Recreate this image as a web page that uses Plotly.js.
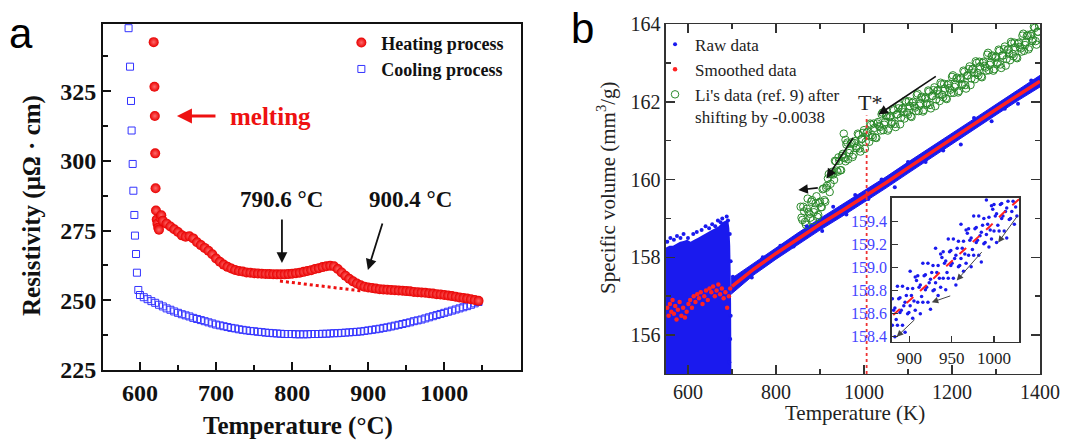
<!DOCTYPE html>
<html><head><meta charset="utf-8">
<script src="https://cdn.plot.ly/plotly-3.0.1.min.js"></script>
<style>html,body{margin:0;padding:0;background:#fff}#chart{width:1082px;height:443px}</style>
</head><body><div id="chart"></div>
<script>
// ---------- Panel a : resistivity ----------
const heatT = [618,619,619.5,620,620.5,621,622,623,624,625,627,628,
 630,635,640,645,650,655,660,665,670,675,680,685,690,695,700,705,710,715,720,725,
 730,735,740,745,750,755,760,765,770,775,780,785,790,795,800,805,810,815,820,825,830,835,840,845,850,855,860,865,870,875,880,885,890,895,900,905,910,915,920,925,930,935,940,945,950,955,960,965,970,975,980,985,990,995,1000,1005,1010,1015,1020,1025,1030,1035,1040,1045];
const heatR = [342.6,326.6,316.1,302.7,290.2,282.2,279,277.5,276,275.3,279.5,280.5,
 278.5,277.5,276.5,275.5,274.5,273.3,272.8,273.0,272.2,270.8,269.8,268.8,267.8,266.5,265.0,263.8,262.8,262.0,261.4,260.9,
 260.5,260.3,260.0,259.9,259.7,259.6,259.5,259.45,259.4,259.35,259.3,259.3,259.3,259.4,259.5,259.7,259.9,260.2,260.5,260.8,261.2,261.5,261.9,262.2,262.4,262.2,261.2,260.0,258.8,257.7,256.8,256.0,255.4,254.9,254.6,254.4,254.2,254.0,253.9,253.8,253.7,253.6,253.5,253.4,253.3,253.2,253.0,252.9,252.8,252.7,252.5,252.4,252.2,252.1,251.9,251.7,251.5,251.3,251.0,250.8,250.6,250.4,250.1,249.8];
const coolT = [585,586.9,588.2,589,590.4,591.3,592.6,593.4,594.8,596,597.8,
 600,605,610,615,620,625,630,635,640,645,650,655,660,665,670,675,680,685,690,695,700,705,710,715,720,725,730,735,740,745,750,755,760,765,770,775,780,785,790,795,800,805,810,815,820,825,830,835,840,845,850,855,860,865,870,875,880,885,890,895,900,905,910,915,920,925,930,935,940,945,950,955,960,965,970,975,980,985,990,995,1000,1005,1010,1015,1020,1025,1030,1035,1040,1045];
const coolR = [347.6,333.8,321.5,310.9,298.9,289.3,280.6,273.2,266.6,259.9,253.7,
 251.9,251.1,250.4,249.7,249.1,248.4,247.8,247.1,246.6,246.0,245.5,245.0,244.6,244.2,243.7,243.3,242.9,242.5,242.1,241.7,241.3,241.0,240.7,240.4,240.1,239.9,239.6,239.4,239.2,239.0,238.9,238.7,238.6,238.4,238.3,238.2,238.1,238.0,237.9,237.9,237.9,237.8,237.8,237.8,237.8,237.9,237.9,237.9,238.0,238.0,238.1,238.2,238.2,238.3,238.4,238.5,238.6,238.7,238.8,239.0,239.2,239.4,239.6,239.8,240.1,240.3,240.6,240.9,241.2,241.5,241.8,242.1,242.5,242.8,243.1,243.5,243.9,244.3,244.7,245.1,245.5,245.9,246.3,246.7,247.1,247.5,247.9,248.4,248.9,249.4];
const baselineT = [784, 893];
const baselineR = [256.9, 253.3];
const aTicks = [600,700,800,900,1000];
const aYTicks = [225,250,275,300,325];

// ---------- Panel b : specific volume ----------
const blockT = [550,558,566,574,582,590,598,606,614,622,630,638,646,654,662,670,678,686,691,694,696,697,698,698.5];
const blockTop = [158.25,158.3,158.3,158.35,158.4,158.42,158.45,158.4,158.45,158.5,158.55,158.6,158.65,158.7,158.75,158.8,158.9,158.95,159.0,158.75,158.3,157.6,156.8,155.5];
const blockBottom = [154.9,154.9,154.9,154.9,154.9,154.9,154.9,154.9,154.9,154.9,154.9,154.9,154.9,154.9,154.9,154.9,154.9,154.9,154.9,154.9,154.9,154.9,154.9,154.9];
const bandT = [698,750,800,850,900,950,1000,1050,1100,1150,1200,1250,1300,1350,1400];
const bandLow = [157.05,157.55,157.95,158.33,158.70,159.05,159.41,159.78,160.16,160.54,160.91,161.28,161.66,162.03,162.38];
const bandHigh = [157.45,157.86,158.25,158.63,159.00,159.35,159.70,160.07,160.45,160.83,161.19,161.56,161.94,162.32,162.68];
const rawDotT = [553,560,568,575,583,590,600,612,620,631,640,648,655,662,668,674,678,684,688,691,695,697,698,697,696,694,702,720,745,770,810,840,870,905,930,960,980,1010,1040,1070,1100,1140,1180,1220,1250,1290,1320,1350,1380];
const rawDotV = [158.4,158.5,158.45,158.55,158.5,158.6,158.5,158.6,158.65,158.7,158.8,158.75,158.85,158.8,158.95,158.9,159.0,158.85,159.05,158.95,158.6,157.9,157.2,156.5,155.9,155.3,157.5,157.55,157.48,158.0,158.3,158.28,158.8,158.68,159.3,159.1,159.6,159.5,160.0,159.8,160.45,160.45,160.75,160.9,161.58,161.5,161.82,161.95,162.55];
const smoothBlockT = [553,556,559,562,565,568,571,574,577,581,585,589,593,597,601,605,609,613,617,621,625,629,633,637,641,645,649,653,657,661,665,669,673,677,681,685,689,693,696];
const smoothBlockV = [156.7,156.5,156.8,156.6,156.9,156.55,156.75,156.4,156.65,156.85,156.5,156.7,156.45,156.6,156.8,156.9,156.7,157.0,156.85,157.05,156.95,157.1,156.8,157.0,157.15,156.9,157.2,157.1,157.25,157.0,157.15,157.3,157.05,157.2,156.95,157.1,156.7,157.0,157.2];
const smoothT = [700,750,800,850,900,950,1000,1050,1100,1150,1200,1250,1300,1350,1400];
const smoothV = [157.25,157.70,158.10,158.48,158.85,159.20,159.55,159.92,160.30,160.68,161.05,161.42,161.80,162.17,162.53];
const liT = [856,860,864,868,872,876,880,884,888,892,896,900,904,908,912,916,920,924,928,932,936,940,944,948,952,956,960,964,968,972,976,980,984,988,992,996,1000,1004,1008,1012,1016,1020,1024,1028,1032,1036,1040,1044,1048,1052,1056,1060,1064,1068,1072,1076,1080,1084,1088,1092,1096,1100,1104,1108,1112,1116,1120,1124,1128,1132,1136,1140,1144,1148,1152,1156,1160,1164,1168,1172,1176,1180,1184,1188,1192,1196,1200,1204,1208,1212,1216,1220,1224,1228,1232,1236,1240,1244,1248,1252,1256,1260,1264,1268,1272,1276,1280,1284,1288,1292,1296,1300,1304,1308,1312,1316,1320,1324,1328,1332,1336,1340,1344,1348,1352,1356,1360,1364,1368,1372,1376,1380,1384,1388,1392,1396,954,958,
 858,862,866,870,874,878,882,886,890,894,898,902,906,910,914,918,922,926,930,934,938,942,946,950,954,958,962,966,970,974,978,982,986,990,994,998,1002,1006,1010,1014,1018,1022,1026,1030,1034,1038,1042,1046,1050,1054,1058,1062,1066,1070,1074,1078,1082,1086,1090,1094,1098,1102,1106,1110,1114,1118,1122,1126,1130,1134,1138,1142,1146,1150,1154,1158,1162,1166,1170,1174,1178,1182,1186,1190,1194,1198,1202,1206,1210,1214,1218,1222,1226,1230,1234,1238,1242,1246,1250,1254,1258,1262,1266,1270,1274,1278,1282,1286,1290,1294,1298,1302,1306,1310,1314,1318,1322,1326,1330,1334,1338,1342,1346,1350,1354,1358,1362,1366,1370,1374,1378,1382,1386,1390,1394,1398];
const liV = [159.30,158.96,159.18,158.84,159.51,159.12,159.43,158.95,159.23,159.57,159.09,159.43,159.29,159.77,159.43,159.84,160.14,159.89,160.20,159.99,160.47,160.20,160.48,160.24,160.66,160.55,160.90,160.52,160.76,160.96,160.64,160.99,160.85,161.15,160.72,161.05,161.27,160.97,161.23,160.97,161.41,161.09,161.33,161.07,161.48,161.35,161.68,161.27,161.48,161.65,161.31,161.63,161.48,161.78,161.35,161.68,161.91,161.59,161.84,161.57,161.99,161.67,161.89,161.61,162.00,161.85,162.17,161.76,161.96,162.13,161.79,162.11,161.96,162.26,161.83,162.15,162.37,162.06,162.30,162.02,162.45,162.12,162.34,162.07,162.46,162.31,162.64,162.23,162.44,162.62,162.28,162.61,162.46,162.77,162.34,162.68,162.91,162.60,162.85,162.58,163.00,162.68,162.91,162.63,163.03,162.88,163.21,162.81,163.01,163.19,162.84,163.16,163.01,163.31,162.87,163.19,163.42,163.10,163.35,163.07,163.50,163.17,163.40,163.12,163.52,163.37,163.70,163.31,163.53,163.72,163.40,163.74,163.60,163.90,163.47,163.80,161.18,161.02,
 159.02,159.30,158.91,159.25,159.16,159.02,159.47,159.16,159.39,159.04,159.39,159.29,159.75,159.47,159.79,160.03,159.68,160.14,160.13,160.48,160.23,160.57,160.24,160.61,160.57,160.47,160.95,160.68,160.92,160.58,160.94,160.81,161.18,160.80,161.04,161.20,160.79,161.20,161.13,161.44,161.14,161.44,161.08,161.44,161.38,161.26,161.72,161.41,161.63,161.26,161.60,161.44,161.81,161.43,161.67,161.83,161.42,161.81,161.73,162.03,161.72,162.01,161.63,161.97,161.89,161.76,162.21,161.90,162.11,161.75,162.08,161.93,162.29,161.92,162.15,162.30,161.89,162.28,162.19,162.49,162.18,162.46,162.09,162.43,162.35,162.23,162.68,162.38,162.60,162.24,162.58,162.43,162.80,162.43,162.67,162.84,162.43,162.83,162.75,163.04,162.74,163.03,162.65,163.00,162.92,162.80,163.26,162.95,163.17,162.80,163.13,162.98,163.34,162.96,163.19,163.35,162.93,163.33,163.24,163.54,163.23,163.52,163.14,163.49,163.41,163.29,163.75,163.46,163.69,163.35,163.70,163.56,163.93,163.56,163.80,163.95];
const tStar = [1006, 1006];
const tStarV = [155, 161.65];

// ---------- Inset ----------
const insT = [880,883,886,889,892,895,898,901,904,907,910,913,916,919,922,925,928,931,934,937,940,943,946,949,952,955,958,961,964,967,970,973,976,979,982,985,988,991,994,997,1000,1003,1006,1009,1012,1015,1018,1021,1024,1027,
 880,883,886,889,892,895,898,901,904,907,910,913,916,919,922,925,928,931,934,937,940,943,946,949,952,955,958,961,964,967,970,973,976,979,982,985,988,991,994,997,1000,1003,1006,1009,1012,1015,1018,1021,1024,1027,
 881.5,884.5,887.5,890.5,893.5,896.5,899.5,902.5,905.5,908.5,911.5,914.5,917.5,920.5,923.5,926.5,929.5,932.5,935.5,938.5,941.5,944.5,947.5,950.5,953.5,956.5,959.5,962.5,965.5,968.5,971.5,974.5,977.5,980.5,983.5,986.5,989.5,992.5,995.5,998.5,1001.5,1004.5,1007.5,1010.5,1013.5,1016.5,1019.5,1022.5,1025.5,1028.5];
const insV = [158.73,158.65,158.84,158.74,158.84,158.70,158.82,158.97,158.82,158.92,158.93,158.85,159.04,158.94,159.04,158.90,159.02,159.17,159.02,159.12,159.14,159.06,159.25,159.15,159.25,159.11,159.23,159.38,159.23,159.33,159.34,159.26,159.45,159.35,159.45,159.31,159.43,159.59,159.44,159.54,159.55,159.47,159.66,159.56,159.66,159.52,159.64,159.79,159.64,159.74,
 158.50,158.40,158.50,158.61,158.50,158.44,158.60,158.67,158.56,158.63,158.70,158.60,158.70,158.81,158.70,158.64,158.80,158.87,158.76,158.83,158.91,158.81,158.91,159.02,158.91,158.85,159.01,159.08,158.97,159.04,159.11,159.01,159.11,159.22,159.11,159.05,159.21,159.29,159.18,159.25,159.32,159.22,159.32,159.43,159.32,159.26,159.42,159.49,159.38,159.45,
 158.63,158.55,158.73,158.63,158.67,158.76,158.61,158.76,158.71,158.89,158.83,158.75,158.93,158.83,158.87,158.96,158.81,158.96,158.91,159.09,159.04,158.96,159.14,159.04,159.08,159.17,159.02,159.17,159.12,159.30,159.24,159.16,159.34,159.24,159.28,159.37,159.22,159.38,159.33,159.51,159.45,159.37,159.55,159.45,159.49,159.58,159.43,159.58,159.53,159.71];
const insSmoothT = [881,895,910,925,940,952,965,980,995,1010,1023,1030];
const insSmoothV = [158.59,158.68,158.78,158.88,158.99,159.07,159.16,159.26,159.36,159.47,159.56,159.60];

const SERIF = 'Liberation Serif, Times New Roman, serif';
const BLUE = '#1a1aee';
const GREEN = '#2b8a2b';

const traces = [
  {x: coolT, y: coolR, xaxis:'x', yaxis:'y', type:'scatter', mode:'markers', name:'Cooling process',
   marker:{symbol:'square-open', size:7, color:'#3333ff', line:{width:1}}, legend:'legend'},
  {x: heatT, y: heatR, xaxis:'x', yaxis:'y', type:'scatter', mode:'markers', name:'Heating process',
   marker:{symbol:'circle', size:10, color:'#e80000', gradient:{type:'radial', color:'#ff6a6a'}}, legend:'legend'},
  {x: baselineT, y: baselineR, xaxis:'x', yaxis:'y', type:'scatter', mode:'lines', showlegend:false,
   line:{color:'#ee1111', width:3, dash:'dot'}},
  // panel b
  {x: blockT, y: blockBottom, xaxis:'x2', yaxis:'y2', type:'scatter', mode:'lines', line:{color:BLUE, width:0, simplify:false}, showlegend:false},
  {x: blockT, y: blockTop, xaxis:'x2', yaxis:'y2', type:'scatter', mode:'lines', fill:'tonexty', fillcolor:BLUE,
   line:{color:BLUE, width:0, simplify:false}, showlegend:false},
  {x: bandT, y: bandLow, xaxis:'x2', yaxis:'y2', type:'scatter', mode:'lines', line:{color:BLUE, width:1}, showlegend:false},
  {x: bandT, y: bandHigh, xaxis:'x2', yaxis:'y2', type:'scatter', mode:'lines', fill:'tonexty', fillcolor:BLUE,
   line:{color:BLUE, width:1}, showlegend:false},
  {x: liT, y: liV, xaxis:'x2', yaxis:'y2', type:'scatter', mode:'markers', name:"Li's data (ref. 9) after<br>shifting by -0.0038",
   marker:{symbol:'circle-open', size:7.5, color:GREEN, line:{width:1}}, legend:'legend2', legendrank:3},
  {x: rawDotT, y: rawDotV, xaxis:'x2', yaxis:'y2', type:'scatter', mode:'markers', name:'Raw data',
   marker:{size:4, color:BLUE}, legend:'legend2', legendrank:1},
  {x: smoothBlockT, y: smoothBlockV, xaxis:'x2', yaxis:'y2', type:'scatter', mode:'markers', name:'Smoothed data',
   marker:{size:4.5, color:'#ff2222'}, legend:'legend2', legendrank:2},
  {x: smoothT, y: smoothV, xaxis:'x2', yaxis:'y2', type:'scatter', mode:'lines', showlegend:false,
   line:{color:'#ff2222', width:3.5}},
  {x: tStar, y: tStarV, xaxis:'x2', yaxis:'y2', type:'scatter', mode:'lines', showlegend:false,
   line:{color:'#ee3333', width:1.8, dash:'dot'}},
  // inset
  {x: insT, y: insV, xaxis:'x3', yaxis:'y3', type:'scatter', mode:'markers', showlegend:false,
   marker:{size:3.5, color:BLUE}},
  {x: insSmoothT, y: insSmoothV, xaxis:'x3', yaxis:'y3', type:'scatter', mode:'lines', showlegend:false,
   line:{color:'#ff2222', width:2, dash:'dash'}}
];

function arrow(xref, yref, x, y, ax, ay, color, width, size) {
  return {xref:xref, yref:yref, axref:xref, ayref:yref, x:x, y:y, ax:ax, ay:ay, text:'', showarrow:true,
          arrowhead:2, arrowsize:size||1, arrowwidth:width, arrowcolor:color, standoff:0, startstandoff:0};
}
const boldFont = (s, c) => ({family:SERIF, size:s, color:c||'#111', weight:'bold'});
const regFont = (s, c) => ({family:SERIF, size:s, color:c||'#222'});
function ptext(x, y, text, font, extra) {
  return Object.assign({xref:'paper', yref:'paper', x:x, y:y, text:text, showarrow:false, xanchor:'center', yanchor:'middle', font:font}, extra||{});
}

const annotations = [
  ptext(0.0194, 0.925, 'a', {family:'Liberation Sans, Arial', size:42, color:'#000'}),
  ptext(0.5388, 0.935, 'b', {family:'Liberation Sans, Arial', size:42, color:'#000'}),
  ptext(0.2757, 0.002, 'Temperature (°C)', boldFont(25), {yanchor:'bottom'}),
  ptext(0.0296, 0.535, 'Resistivity (μΩ · cm)', boldFont(25), {textangle:-90}),
  ptext(0.7902, 0.0677, 'Temperature (K)', regFont(21)),
  ptext(0.5601, 0.5756, 'Specific volume (mm<sup>3</sup>/g)', regFont(21), {textangle:-90}),
  {xref:'x', yref:'y', x:715.7, y:316.1, xanchor:'left', yanchor:'middle', text:'melting', showarrow:false, font:boldFont(25, '#ee1111')},
  {xref:'x', yref:'y', x:786.6, y:286, xanchor:'center', yanchor:'middle', text:'790.6 °C', showarrow:false, font:boldFont(23)},
  {xref:'x', yref:'y', x:956, y:286, xanchor:'center', yanchor:'middle', text:'900.4 °C', showarrow:false, font:boldFont(23)},
  arrow('x','y', 648.6, 316.1, 701.2, 316.1, '#ee1111', 3, 1),
  arrow('x','y', 786.6, 263.4, 786.6, 279.5, '#111', 1.8, 1.2),
  arrow('x','y', 899.6, 260.9, 919.3, 278.1, '#111', 1.8, 1.2),
  {xref:'x2', yref:'y2', x:1013.6, y:161.98, xanchor:'center', yanchor:'middle', text:'T*', showarrow:false, font:regFont(22)},
  arrow('x2','y2', 1032.5, 161.67, 1166.6, 162.68, '#111', 1.6, 1.2),
  arrow('x2','y2', 915.2, 160.03, 977.3, 161.11, '#111', 1.6, 1.2),
  arrow('x2','y2', 850.7, 159.73, 898.4, 159.79, '#111', 1.6, 1.2),
  arrow('x3','y3', 1004.9, 159.22, 1028.5, 159.46, '#444', 1, 1.3),
  arrow('x3','y3', 956.0, 158.89, 987.1, 159.15, '#444', 1, 1.3),
  arrow('x3','y3', 926.5, 158.70, 950.1, 158.76, '#444', 1, 1.3),
  arrow('x3','y3', 885.1, 158.40, 907.9, 158.56, '#444', 1, 1.3)
];

const axA = {showline:true, linewidth:2, linecolor:'#111', mirror:true, showgrid:false, zeroline:false,
  ticks:'inside', ticklen:8, tickwidth:2, tickcolor:'#111', tickfont:boldFont(24), automargin:false};
const axB = {showline:true, linewidth:1.5, linecolor:'#333', mirror:'ticks', showgrid:false, zeroline:false,
  ticks:'inside', ticklen:9, tickwidth:1.5, tickcolor:'#333', tickfont:regFont(20), automargin:false};

const layout = {
  width:1082, height:443, margin:{l:0, r:0, t:0, b:0}, paper_bgcolor:'#fff', plot_bgcolor:'rgba(0,0,0,0)',
  showlegend:true,
  xaxis: Object.assign({}, axA, {domain:[0.0952,0.4815], range:[551.4,1100.8], anchor:'y', tickvals:aTicks,
     minor:{tickvals:[650,750,850,950,1050], ticks:'inside', ticklen:5, tickwidth:2, tickcolor:'#111'}}),
  yaxis: Object.assign({}, axA, {domain:[0.1648,0.9458], range:[225,349.1], anchor:'x', tickvals:aYTicks,
     minor:{tickvals:[237.5,262.5,287.5,312.5,337.5], ticks:'inside', ticklen:5, tickwidth:2, tickcolor:'#111'}}),
  xaxis2: Object.assign({}, axB, {domain:[0.6155,0.9612], range:[550,1400], anchor:'y2', tickvals:[600,800,1000,1200,1400],
     minor:{tickvals:[700,900,1100,1300], ticks:'inside', ticklen:5, tickwidth:1.5, tickcolor:'#333'}}),
  yaxis2: Object.assign({}, axB, {domain:[0.1558,0.9458], range:[155,164], anchor:'x2', tickvals:[156,158,160,162,164],
     minor:{tickvals:[157,159,161,163], ticks:'inside', ticklen:5, tickwidth:1.5, tickcolor:'#333'}}),
  xaxis3: {domain:[0.8241,0.9421], range:[879.2,1029.9], anchor:'y3', tickvals:[900,950,1000], showline:true, linewidth:1.5,
     linecolor:'#333', mirror:true, ticks:'inside', ticklen:6, tickwidth:1.2, tickcolor:'#333', showgrid:false, zeroline:false,
     tickfont:regFont(17), automargin:false},
  yaxis3: {domain:[0.2287,0.5537], range:[158.357,159.61], anchor:'x3', tickvals:[158.4,158.6,158.8,159.0,159.2,159.4], tickformat:'.1f',
     showline:true, linewidth:1.5, linecolor:'#333', mirror:true, ticks:'inside', ticklen:6, tickwidth:1.2, tickcolor:'#333',
     showgrid:false, zeroline:false, tickfont:regFont(16, '#4444ff'), automargin:false},
  legend: {x:0.3155, y:0.945, xanchor:'left', yanchor:'top', bgcolor:'rgba(0,0,0,0)', font:boldFont(18), itemwidth:30, traceorder:'reversed'},
  legend2: {x:0.6054, y:0.94, xanchor:'left', yanchor:'top', bgcolor:'rgba(0,0,0,0)', font:regFont(17), valign:'top', itemwidth:30},
  annotations: annotations
};

Plotly.newPlot('chart', traces, layout, {displayModeBar:false, staticPlot:true});
</script></body></html>
